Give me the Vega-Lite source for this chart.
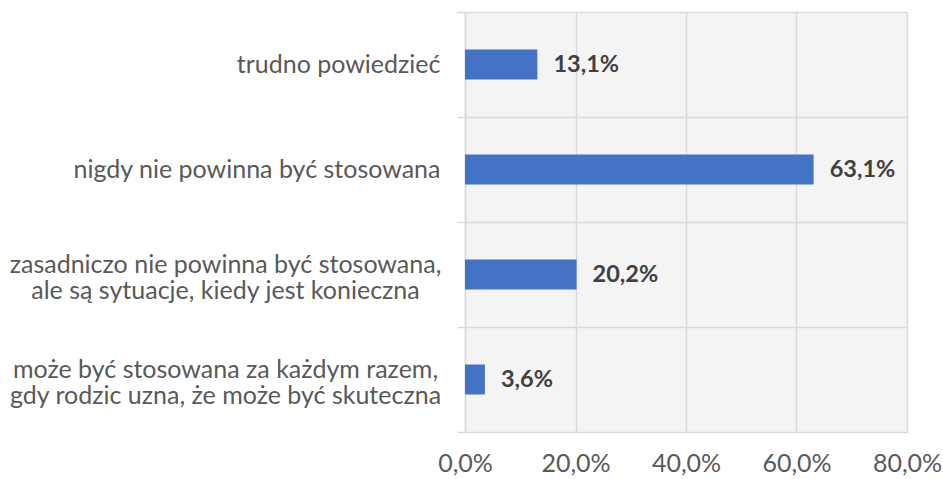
{
  "$schema": "https://vega.github.io/schema/vega-lite/v6.json",
  "width": 442,
  "height": 420,
  "autosize": {"type": "none"},
  "padding": {"left": 465, "top": 12, "right": 36, "bottom": 47},
  "background": "white",
  "config": {
    "locale": {"number": {"decimal": ",", "thousands": " ", "grouping": [3], "currency": ["", " zł"]}},
    "view": {"stroke": null, "fill": "#f4f4f4"},
    "font": "Lato"
  },
  "data": {
    "values": [
      {"kategoria": "trudno powiedzieć", "odsetek": 0.131},
      {"kategoria": "nigdy nie powinna być stosowana", "odsetek": 0.631},
      {"kategoria": "zasadniczo nie powinna być stosowana,|ale są sytuacje, kiedy jest konieczna", "odsetek": 0.202},
      {"kategoria": "może być stosowana za każdym razem,|gdy rodzic uzna, że może być skuteczna", "odsetek": 0.036}
    ]
  },
  "encoding": {
    "x": {
      "field": "odsetek",
      "type": "quantitative",
      "scale": {"domain": [0, 0.8], "nice": false},
      "axis": {
        "title": null,
        "values": [0, 0.2, 0.4, 0.6, 0.8],
        "format": ".1%",
        "labelFontSize": 25,
        "labelColor": "#595959",
        "labelPadding": 19,
        "labelFlush": false,
        "ticks": false,
        "domain": false,
        "grid": true,
        "gridColor": "#d9d9d9",
        "gridWidth": 1.5
      }
    }
  },
  "layer": [
    {
      "mark": {"type": "bar", "color": "#4472c4", "height": {"band": 0.2857}},
      "encoding": {
        "y": {
          "field": "kategoria",
          "type": "nominal",
          "sort": null,
          "scale": {"paddingInner": 0, "paddingOuter": 0},
          "axis": {
            "orient": "left",
            "title": null,
            "labelExpr": "indexof(datum.label, '|') >= 0 ? '' : datum.label",
            "labelFontSize": 25,
            "labelColor": "#595959",
            "labelAlign": "right",
            "labelPadding": 17,
            "labelLimit": 600,
            "tickBand": "extent",
            "tickSize": 8,
            "tickColor": "#d9d9d9",
            "tickWidth": 1.5,
            "grid": true,
            "gridColor": "#d9d9d9",
            "gridWidth": 1.5,
            "domain": true,
            "domainColor": "#d9d9d9",
            "domainWidth": 1.5
          }
        }
      }
    },
    {
      "mark": {"type": "text", "align": "left", "baseline": "middle", "dx": 16, "fontSize": 23.5, "fontWeight": "bold", "color": "#404040"},
      "encoding": {
        "y": {
          "field": "kategoria",
          "type": "nominal",
          "sort": null,
          "scale": {"paddingInner": 0, "paddingOuter": 0},
          "axis": {
            "orient": "left",
            "title": null,
            "labelExpr": "indexof(datum.label, '|') >= 0 ? split(datum.label, '|') : ''",
            "labelFontSize": 25,
            "labelColor": "#595959",
            "labelAlign": "center",
            "labelPadding": 240,
            "labelOffset": -10,
            "labelLimit": 600,
            "labelLineHeight": 26,
            "ticks": false,
            "grid": false,
            "domain": false
          }
        },
        "text": {"field": "odsetek", "type": "quantitative", "format": ".1%"}
      }
    }
  ],
  "resolve": {"axis": {"y": "independent"}}
}
